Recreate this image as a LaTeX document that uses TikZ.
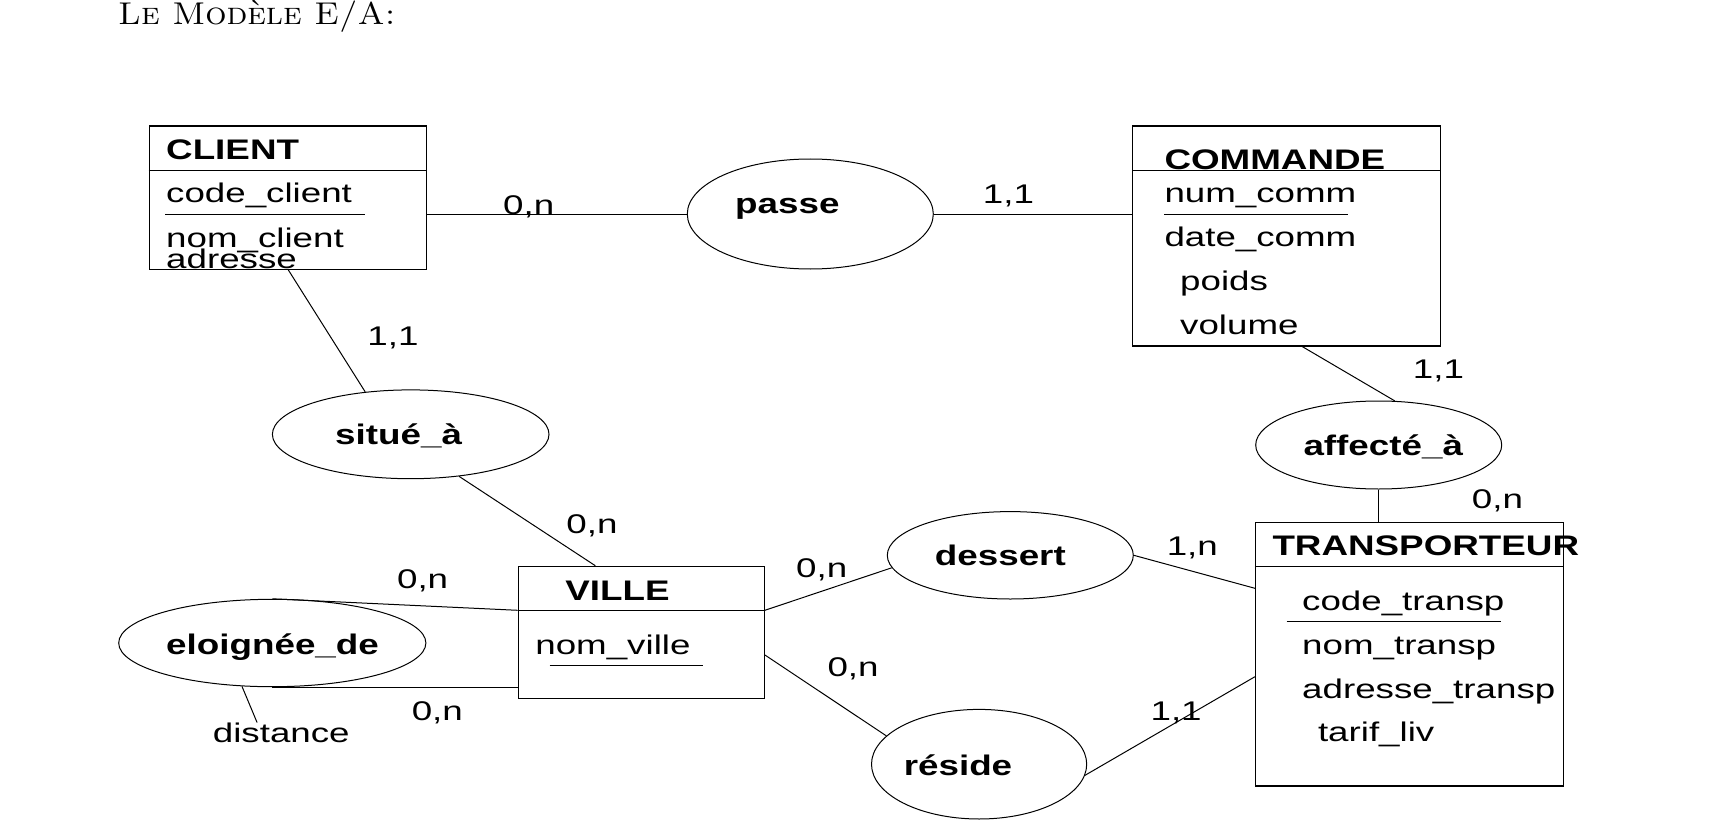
\documentclass[tikz,border=0pt]{standalone}
\usepackage{graphicx}
\usepackage{fontspec}
\newfontfamily\erfont[FakeStretch=1.36]{Liberation Sans}
\newfontfamily\erbold[FakeStretch=1.3]{Liberation Sans Bold}
\usetikzlibrary{shapes.geometric}
\begin{document}
\begin{tikzpicture}[x=1pt,y=-1pt,
  ent/.style={draw, line width=1.2pt, rectangle, inner sep=0pt},
  rel/.style={draw, line width=1pt, ellipse, inner sep=0pt},
  conn/.style={line width=1pt},
  hdr/.style={line width=1.1pt},
  uline/.style={line width=1pt},
  txt/.style={inner sep=0pt, anchor=base west, font=\erfont\fontsize{27}{32}\selectfont},
  btxt/.style={txt, font=\erbold\fontsize{28.3}{33}\selectfont},
]
\useasboundingbox (0,0) rectangle (1722,840);

% title
\node[inner sep=0pt, anchor=base west, font=\fontsize{31.5}{38}\selectfont] (title) at (118,25) {\scalebox{1.06}[1]{\textsc{Le Modèle E/A:}}};

% CLIENT
\node[ent, minimum width=277.4pt, minimum height=143.3pt] (client) at (288,197.65) {};
\draw[hdr] (client.west |- 0,170.5) -- (client.east |- 0,170.5);
\node[btxt] (tclient) at (166,159.3) {CLIENT};
\node[txt] (cA) at (166,202.3) {code\_client};
\draw[uline] (165.3,214.3) -- (365,214.3);
\node[txt] (cB) at (166,247.5) {nom\_client};
\node[txt] (cC) at (166,268) {adresse};

% COMMANDE
\node[ent, minimum width=308pt, minimum height=220pt] (commande) at (1286.7,236) {};
\draw[hdr] (commande.west |- 0,170.3) -- (commande.east |- 0,170.3);
\node[btxt] (tcommande) at (1164.3,169.3) {COMMANDE};
\node[txt] (mA) at (1164.3,202.7) {num\_comm};
\draw[uline] (1164.3,214.3) -- (1348.3,214.3);
\node[txt] (mB) at (1164.3,246.7) {date\_comm};
\node[txt] (mC) at (1180,290) {poids};
\node[txt] (mD) at (1180,334.3) {volume};

% VILLE
\node[ent, minimum width=246pt, minimum height=132pt] (ville) at (641.3,632.3) {};
\draw[hdr] (ville.west |- 0,610.3) -- (ville.east |- 0,610.3);
\node[btxt] (tville) at (565.2,600) {VILLE};
\node[txt] (vA) at (535.2,654.3) {nom\_ville};
\draw[uline] (549.5,665.3) -- (702.6,665.3);

% TRANSPORTEUR
\node[ent, minimum width=308pt, minimum height=263.3pt] (transp) at (1409.55,654.35) {};
\draw[hdr] (transp.west |- 0,566.3) -- (transp.east |- 0,566.3);
\node[btxt] (ttransp) at (1272.3,555) {TRANSPORTEUR};
\node[txt] (tA) at (1302,610) {code\_transp};
\draw[uline] (1286.7,621.7) -- (1501.4,621.7);
\node[txt] (tB) at (1302,654) {nom\_transp};
\node[txt] (tC) at (1302,698.3) {adresse\_transp};
\node[txt] (tD) at (1317.8,741.7) {tarif\_liv};

% relations
\node[rel, minimum width=246pt, minimum height=110pt] (passe) at (810.3,214) {};
\node[btxt] (tpasse) at (735,213) {passe};
\node[rel, minimum width=276.6pt, minimum height=88.8pt] (situe) at (410.7,434.3) {};
\node[btxt] (tsitue) at (335,444) {situé\_à};
\node[rel, minimum width=246pt, minimum height=88pt] (affecte) at (1378.7,445) {};
\node[btxt] (taffecte) at (1303.3,455) {affecté\_à};
\node[rel, minimum width=246pt, minimum height=87.4pt] (dessert) at (1010.3,555.3) {};
\node[btxt] (tdessert) at (934.7,565.7) {dessert};
\node[rel, minimum width=215.2pt, minimum height=109.6pt] (reside) at (979.1,764.2) {};
\node[btxt] (treside) at (903.6,775) {réside};
\node[rel, minimum width=307.2pt, minimum height=87.4pt] (eloignee) at (272.3,643) {};
\node[btxt] (teloignee) at (166,654.3) {eloignée\_de};
\node[txt] (distance) at (212.7,742.3) {distance};

% cardinalities
\node[txt] (k1) at (503,214) {0,n};
\node[txt] (k2) at (982.7,203.3) {1,1};
\node[txt] (k3) at (367.2,345.7) {1,1};
\node[txt] (k4) at (566.2,533.3) {0,n};
\node[txt] (k5) at (396.9,588.3) {0,n};
\node[txt] (k6) at (411.6,720) {0,n};
\node[txt] (k7) at (1412.7,378.3) {1,1};
\node[txt] (k8) at (1471.7,508.3) {0,n};
\node[txt] (k9) at (796,577.7) {0,n};
\node[txt] (k10) at (827.3,676.7) {0,n};
\node[txt] (k11) at (1166.6,555) {1,n};
\node[txt] (k12) at (1150.4,720.7) {1,1};

% connectors
\draw[conn] (client.east |- passe.west) -- (passe.west);
\draw[conn] (passe.east) -- (commande.west |- passe.east);
\draw[conn] (client.south -| 288.3,0) -- (situe.137);
\draw[conn] (situe.319) -- (ville.north -| 595.3,0);
\draw[conn] (eloignee.north) -- (ville.west |- 0,610.3);
\draw[conn] (eloignee.south) -- (ville.west |- eloignee.south);
\draw[conn] (eloignee.235) -- (distance.north -| 257.1,0);
\draw[conn] (commande.south -| 1302.3,0) -- (affecte.70);
\draw[conn] (affecte.south) -- (transp.north -| affecte.south);
\draw[conn] (ville.east |- 0,610.3) -- (dessert.186);
\draw[conn] (dessert.east) -- (transp.west |- 0,588.3);
\draw[conn] (ville.east |- 0,655) -- (reside.163);
\draw[conn] (reside.354) -- (transp.west |- 0,676.7);
\end{tikzpicture}
\end{document}
